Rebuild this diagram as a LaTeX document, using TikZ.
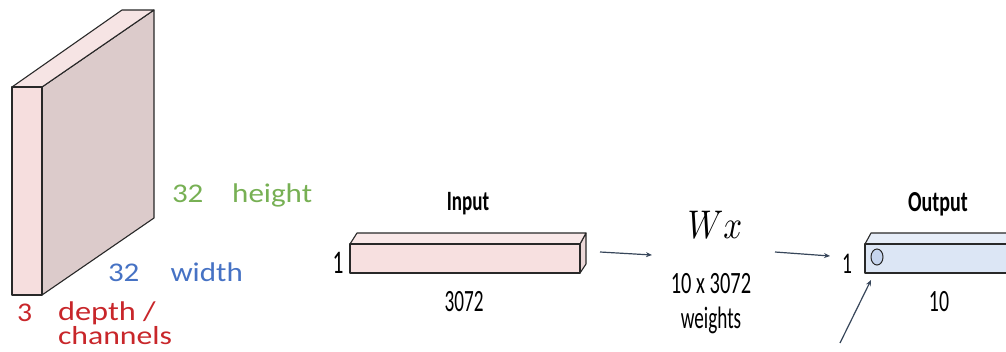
\documentclass[tikz,border=0pt]{standalone}
\usepackage{fontspec}
\usepackage{graphicx}
\usetikzlibrary{arrows.meta,shapes.geometric}
\newfontfamily\calfont{Carlito}
\newcommand\mytxt[3]{{\calfont\fontsize{#1}{#1}\selectfont\scalebox{#2}[1]{#3}}}
\definecolor{slabfront}{RGB}{246,222,222}
\definecolor{slabside}{RGB}{220,203,203}
\definecolor{slabtop}{RGB}{246,228,228}
\definecolor{inpfront}{RGB}{247,224,224}
\definecolor{inptop}{RGB}{249,232,232}
\definecolor{inpside}{RGB}{236,216,216}
\definecolor{outfront}{RGB}{220,230,245}
\definecolor{outtop}{RGB}{230,237,248}
\definecolor{outcirc}{RGB}{198,213,238}
\definecolor{hgreen}{RGB}{119,176,84}
\definecolor{wblue}{RGB}{70,114,196}
\definecolor{dred}{RGB}{200,38,42}
\definecolor{arrowc}{RGB}{55,70,90}
\definecolor{edgec}{RGB}{40,40,40}
\begin{document}
\begin{tikzpicture}[x=1pt,y=-1pt,
  face/.style={draw=edgec, line width=1.1pt, line join=round},
  arr/.style={draw=arrowc, line width=1.2pt, -{Stealth[length=6pt,width=5pt]}},
  lbl/.style={inner sep=0pt, outer sep=0pt}]
\useasboundingbox (0,0) rectangle (1006,351);
\clip (0,0) rectangle (1006,351);
% ---- slab 32x32x3
\filldraw[face, fill=slabside] (42,87) -- (154,10) -- (154,218) -- (42,295) -- cycle;
\filldraw[face, fill=slabtop] (12,87) -- (122,10) -- (154,10) -- (42,87) -- cycle;
\filldraw[face, fill=slabfront] (12,87) rectangle (42,295);
\node[lbl, anchor=base west, text=hgreen] (h) at (172,202) {\mytxt{27}{1.15}{32\hspace{25pt}height}};
\node[lbl, anchor=base west, text=wblue] (w) at (108,281) {\mytxt{27}{1.15}{32\hspace{27pt}width}};
\node[lbl, anchor=base west, text=dred] (d3) at (17,321) {\mytxt{27}{1.1}{3}};
\node[lbl, anchor=base west, text=dred] (dp) at (58,320) {\mytxt{27}{1.2}{depth /}};
\node[lbl, anchor=base west, text=dred] (ch) at (58,344) {\mytxt{26}{1.22}{channels}};
% ---- input bar
\filldraw[face, fill=inpside] (580,244) -- (586,233) -- (586,264) -- (580,273) -- cycle;
\filldraw[face, fill=inptop] (350,244) -- (357,233) -- (586,233) -- (580,244) -- cycle;
\filldraw[face, fill=inpfront] (350,244) rectangle (580,273);
\node[lbl, anchor=base] (inlab) at (468,210) {\mytxt{28}{0.68}{\bfseries Input}};
\node[lbl, anchor=base] (in1) at (338,273) {\mytxt{33}{0.65}{1}};
\node[lbl, anchor=base] (in3072) at (464,311) {\mytxt{31}{0.62}{3072}};
% ---- Wx
\node[lbl, anchor=base] (wx) at (715,238) {\scalebox{3.3}[4.0]{$Wx$}};
\node[lbl, anchor=base] (wts1) at (711,293) {\mytxt{31}{0.66}{10 x 3072}};
\node[lbl, anchor=base] (wts2) at (711,328) {\mytxt{31}{0.62}{weights}};
\coordinate (a1s) at (600,252);
\coordinate (a1e) at (652,255);
\coordinate (a2s) at (775,252);
\coordinate (a2e) at (830,256);
\draw[arr] (a1s) -- (a1e);
\draw[arr] (a2s) -- (a2e);
% ---- output bar
\filldraw[face, fill=outtop] (865,244) -- (871,233) -- (1012,233) -- (1012,244) -- cycle;
\filldraw[face, fill=outfront] (865,244) rectangle (1012,273);
\node[draw=edgec, line width=1pt, fill=outcirc, ellipse, minimum width=12pt, minimum height=16pt, inner sep=0pt] (neuron) at (877,257) {};
\node[lbl, anchor=base] (outlab) at (938,211) {\mytxt{29}{0.69}{\bfseries Output}};
\node[lbl, anchor=base] (out1) at (847,273) {\mytxt{30}{0.65}{1}};
\node[lbl, anchor=base] (out10) at (939,311) {\mytxt{31}{0.64}{10}};
\coordinate (ptS) at (840,343);
\coordinate (ptE) at (871,280);
\draw[arr] (ptS) -- (ptE);
\end{tikzpicture}
\end{document}
